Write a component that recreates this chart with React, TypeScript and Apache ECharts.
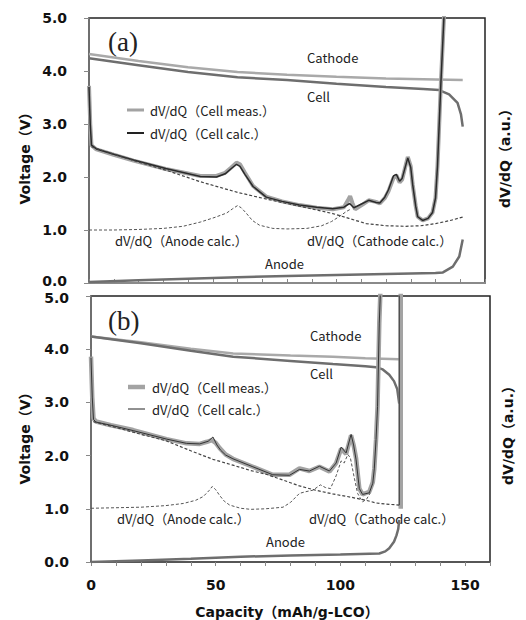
import React, { useEffect, useRef } from "react";
import * as echarts from "echarts";

// ---------- Panel (a) ----------
const aCathodeV: [number, number][] = [[0,4.32],[20,4.19],[40,4.07],[60,3.98],[80,3.93],[100,3.89],[120,3.86],[140,3.84],[151,3.83]];
const aCellV: [number, number][] = [[0,4.24],[20,4.11],[40,3.98],[60,3.88],[80,3.83],[100,3.76],[120,3.70],[135,3.66],[141.5,3.64],[145.5,3.56],[148.9,3.40],[150.3,3.18],[151,2.95]];
const aAnodeV: [number, number][] = [[0,0.02],[20,0.05],[40,0.08],[60,0.11],[80,0.13],[100,0.15],[120,0.17],[140,0.19],[143,0.2],[147,0.31],[149.6,0.5],[151,0.82]];
const aMeas: [number, number][] = [[0,3.72],[0.5,3.0],[1,2.6],[3,2.52],[10,2.42],[18,2.31],[31,2.15],[45,2.02],[51.5,2.02],[55,2.08],[57.5,2.18],[59.6,2.27],[61,2.24],[63,2.08],[66.3,1.83],[71.6,1.63],[78,1.54],[85,1.47],[92,1.42],[98.5,1.39],[103,1.43],[104.5,1.55],[105.5,1.64],[106.5,1.5],[107.5,1.39],[110.5,1.48],[113,1.56],[116,1.53],[117.5,1.5],[119.5,1.6],[121,1.73],[123,1.98],[124.2,2.03],[125.5,1.9],[126.5,1.95],[128.8,2.38],[130,2.2],[130.8,1.85],[132,1.45],[132.8,1.25],[134.8,1.18],[137,1.22],[138.8,1.33],[140,1.6],[140.8,2.2],[141.5,3.0],[142.2,3.8],[143,4.6],[143.8,5.4]];
const aCalc: [number, number][] = [[0,3.7],[0.5,3.0],[1,2.6],[3,2.53],[10,2.43],[18,2.32],[31,2.16],[45,2.01],[51.5,2.0],[55,2.06],[57.5,2.16],[59.6,2.24],[61,2.2],[63,2.05],[66.3,1.82],[71.6,1.62],[78,1.54],[85,1.47],[92,1.43],[98.5,1.4],[103,1.43],[105.3,1.5],[107,1.42],[110.5,1.5],[113,1.56],[116,1.52],[117.5,1.51],[119.5,1.62],[121,1.76],[123,2.02],[124.2,2.05],[125.5,1.92],[126.5,1.97],[128.8,2.36],[130,2.18],[130.8,1.85],[132,1.45],[132.8,1.25],[134.8,1.18],[137,1.22],[138.8,1.33],[140,1.6],[140.8,2.2],[141.5,3.0],[142.2,3.8],[143,4.6],[143.8,5.4]];
const aAnodeCalc: [number, number][] = [[0,1.0],[10,1.0],[20,1.01],[30,1.03],[38,1.07],[45,1.15],[51,1.24],[55.6,1.32],[58,1.4],[60,1.46],[61.5,1.42],[63.5,1.32],[66,1.18],[68.9,1.09],[74.3,1.03],[80,1.02],[88,1.03],[94,1.08],[98,1.16],[101,1.25],[104,1.35],[106,1.4]];
const aCathodeCalc: [number, number][] = [[1,2.57],[10,2.43],[18,2.31],[31,2.13],[45,1.91],[60,1.71],[72,1.58],[85,1.45],[98.5,1.31],[105,1.22],[112,1.12],[120,1.08],[128,1.07],[134,1.08],[140,1.12],[146,1.18],[151.5,1.25]];

// ---------- Panel (b) ----------
const bCathodeV: [number, number][] = [[0,4.24],[20,4.13],[40,4.01],[57,3.92],[80,3.88],[97,3.86],[110,3.83],[123.6,3.81]];
const bCellV: [number, number][] = [[0,4.24],[20,4.11],[40,3.97],[57,3.86],[80,3.78],[97,3.72],[110,3.68],[114.3,3.66],[117,3.62],[119.6,3.52],[121.5,3.4],[122.8,3.25],[123.6,2.98]];
const bAnodeV: [number, number][] = [[0,0.0],[20,0.03],[40,0.06],[60,0.1],[80,0.12],[100,0.14],[115.6,0.16],[118,0.2],[119.6,0.26],[121.5,0.38],[122.5,0.5],[123.2,0.62],[123.6,0.79]];
const bMeas: (number | string)[][] = [[0,3.86],[0.5,3.1],[1,2.7],[2,2.64],[8,2.57],[16.9,2.48],[30.3,2.31],[38.3,2.23],[43.6,2.22],[46.5,2.26],[48.5,2.29],[50,2.24],[51.6,2.14],[54,2.02],[56.9,1.94],[64.9,1.79],[72.9,1.64],[79.6,1.64],[83.6,1.76],[87.6,1.71],[91.6,1.79],[95.6,1.7],[98.3,1.86],[100.3,2.13],[102.3,2.03],[104.3,2.38],[105.3,2.2],[106.3,1.95],[107.6,1.38],[108.9,1.27],[111.6,1.32],[113,1.5],[113.6,1.75],[114.3,2.3],[114.9,2.92],[115.6,4.49],[116.3,5.4],[120,"-"],[124.2,1.0],[124.2,5.4]];
const bCalc: (number | string)[][] = [[0,3.84],[0.5,3.1],[1,2.68],[2,2.63],[8,2.57],[16.9,2.47],[30.3,2.31],[38.3,2.23],[43.6,2.22],[47,2.27],[48.9,2.35],[50.5,2.2],[52,2.1],[54,2.01],[56.9,1.94],[64.9,1.79],[72.9,1.64],[79.6,1.63],[83.6,1.74],[87.6,1.71],[91.6,1.8],[95.6,1.71],[98.3,1.86],[100.3,2.16],[102.3,2.05],[104.3,2.4],[105.3,2.2],[106.3,1.92],[107.6,1.38],[108.9,1.27],[111.6,1.3],[113,1.48],[113.6,1.75],[114.3,2.3],[114.9,2.92],[115.6,4.49],[116.3,5.4],[120,"-"],[123.6,1.07],[123.6,5.4]];
const bAnodeCalc: [number, number][] = [[0,1.01],[10,1.02],[20,1.03],[30,1.06],[37,1.1],[42,1.16],[45,1.23],[47.5,1.35],[48.6,1.42],[50,1.36],[51.6,1.25],[53.5,1.14],[55.6,1.07],[60,1.01],[64,0.99],[70,1.0],[77,1.03],[80,1.12],[83.6,1.29],[86,1.32],[89,1.35],[92,1.45],[94,1.4],[96,1.38],[98.3,1.62],[100.3,1.9],[101.5,1.86],[103,2.02],[104,1.96],[105.5,1.6],[106.9,1.29],[108.9,1.13],[110.5,1.18],[112,1.3]];
const bCathodeCalc: [number, number][] = [[1,2.64],[10,2.53],[20,2.4],[30,2.28],[40,2.09],[48.9,1.93],[56.9,1.82],[64,1.72],[70.9,1.64],[77,1.54],[83.6,1.43],[90,1.35],[96.9,1.28],[104,1.22],[110.3,1.16],[114.3,1.11],[118,1.09],[123.6,1.07]];

const yTicks = [0, 1, 2, 3, 4, 5];
const xLabelTicks = [0, 50, 100, 150];

const TICK_FONT = "DejaVu Sans, Verdana, sans-serif";
const ANN_FONT = "'Noto Sans CJK JP', 'Noto Sans', sans-serif";

export default function App() {
  const ref = useRef<HTMLDivElement>(null);
  useEffect(() => {
    if (!ref.current) return;
    const chart = echarts.init(ref.current, undefined, { renderer: "svg" });

    const grids = [
      { left: 89, top: 18, width: 396, height: 265 },
      { left: 91, top: 296, width: 399, height: 266 },
    ];

    const labelFont = { fontFamily: TICK_FONT, fontWeight: "bold", fontSize: 14, color: "#111" };

    const mkX = (gi: number, labels: boolean) => ({
      type: "value", gridIndex: gi, min: 0, max: 160, interval: 10,
      axisLine: { show: true, onZero: false, lineStyle: { color: labels ? "#555" : "#8a8a8a", width: labels ? 1.5 : 2 } },
      axisTick: { show: true, inside: !labels, length: 4, lineStyle: { color: "#888" } },
      splitLine: { show: false },
      axisLabel: {
        show: labels, margin: 16, ...labelFont,
        formatter: (v: number) => (xLabelTicks.includes(v) ? String(v) : ""),
      },
    });
    const mkY = (gi: number) => ({
      type: "value", gridIndex: gi, min: yTicks[0], max: yTicks[yTicks.length - 1], interval: 1,
      axisLine: { show: true, lineStyle: { color: "#777", width: 1.5 } },
      axisTick: { show: true, length: 5, lineStyle: { color: "#888" } },
      splitLine: { show: false },
      axisLabel: {
        margin: 22, ...labelFont,
        formatter: (v: number) => (gi === 0 && v === 0 ? "{lo|0.0}" : gi === 1 && v === 5 ? "{hi|5.0}" : v.toFixed(1)),
        rich: {
          lo: { ...labelFont, padding: [0, 0, 5, 0] },
          hi: { ...labelFont, padding: [3, 0, 0, 0] },
        },
      },
    });
    const mkY2 = (gi: number) => ({ type: "value", gridIndex: gi, min: 0, max: 5, show: false, name: "dV/dQ (a.u.)" });

    const line = (name: string, data: any[], xi: number, yi: number, color: string, width: number, dashed = false, z = 2) => ({
      name, type: "line", data, xAxisIndex: xi, yAxisIndex: yi, showSymbol: false, symbol: "none",
      lineStyle: { color, width, type: dashed ? [3, 2] : "solid" }, z, clip: true, silent: true,
    });

    const text = (t: string, x: number, y: number, extra: any = {}, rotation = 0) => ({
      type: "text", x, y, rotation, silent: true,
      style: { text: t, fill: "#222", font: `13px ${ANN_FONT}`, align: "left", verticalAlign: "middle", ...extra },
    });
    const legLine = (x: number, y: number, color: string, w: number) => ({
      type: "line", silent: true, shape: { x1: x, y1: y, x2: x + 17, y2: y }, style: { stroke: color, lineWidth: w },
    });
    const titleStyle = { font: `bold 14px ${TICK_FONT}, 'Noto Sans CJK JP'`, fill: "#111", align: "center" };
    const serif = { font: "27px 'Liberation Serif', 'Times New Roman', serif", fill: "#222" };

    const option: any = {
      animation: false,
      grid: grids.map((g) => ({ ...g, show: true, borderColor: "#222", borderWidth: 1.5, backgroundColor: "transparent", containLabel: false })),
      xAxis: [mkX(0, false), mkX(1, true)],
      yAxis: [mkY(0), mkY(1), mkY2(0), mkY2(1)],
      series: [
        line("Cathode", aCathodeV, 0, 0, "#a9a9a9", 2.5),
        line("Cell", aCellV, 0, 0, "#6e6e6e", 2.5),
        line("Anode", aAnodeV, 0, 0, "#6e6e6e", 2.5),
        line("dV/dQ（Cell meas.）", aMeas, 0, 2, "#a3a3a3", 4, false, 3),
        line("dV/dQ（Cell calc.）", aCalc, 0, 2, "#2a2a2a", 1.5, false, 4),
        line("dV/dQ（Anode calc.）", aAnodeCalc, 0, 2, "#555", 1, true, 4),
        line("dV/dQ（Cathode calc.）", aCathodeCalc, 0, 2, "#444", 1.2, true, 4),
        line("Cathode", bCathodeV, 1, 1, "#a9a9a9", 2.5),
        line("Cell", bCellV, 1, 1, "#6e6e6e", 2.5),
        line("Anode", bAnodeV, 1, 1, "#6e6e6e", 2.5),
        line("dV/dQ（Cell meas.）", bMeas, 1, 3, "#a3a3a3", 4.5, false, 3),
        line("dV/dQ（Cell calc.）", bCalc, 1, 3, "#333", 1, false, 4),
        line("dV/dQ（Anode calc.）", bAnodeCalc, 1, 3, "#555", 1, true, 4),
        line("dV/dQ（Cathode calc.）", bCathodeCalc, 1, 3, "#444", 1.2, true, 4),
      ],
      graphic: [
        text("(a)", 108, 42, serif),
        text("(b)", 108, 321, serif),
        text("Cathode", 307, 57),
        text("Cell", 307, 96),
        legLine(127, 110, "#a3a3a3", 3),
        text("dV/dQ（Cell meas.）", 150, 110),
        legLine(127, 133, "#222", 2),
        text("dV/dQ（Cell calc.）", 150, 133),
        text("dV/dQ（Anode calc.）", 115, 240),
        text("dV/dQ（Cathode calc.）", 307, 240),
        text("Anode", 265, 263),
        text("Cathode", 310, 335),
        text("Cell", 310, 373),
        legLine(128, 387, "#a3a3a3", 4.5),
        text("dV/dQ（Cell meas.）", 152, 387),
        legLine(128, 409, "#222", 1),
        text("dV/dQ（Cell calc.）", 152, 409),
        text("dV/dQ（Anode calc.）", 117, 518),
        text("dV/dQ（Cathode calc.）", 309, 518),
        text("Anode", 266, 541),
        text("Voltage（V）", 25, 155, titleStyle, Math.PI / 2),
        text("Voltage（V）", 25, 435, titleStyle, Math.PI / 2),
        text("dV/dQ（a.u.）", 505, 155, titleStyle, Math.PI / 2),
        text("dV/dQ（a.u.）", 508, 432, titleStyle, Math.PI / 2),
        text("Capacity（mAh/g-LCO）", 287, 612, titleStyle),
      ],
    };

    chart.setOption(option);
    return () => chart.dispose();
  }, []);

  return <div ref={ref} style={{ position: "fixed", left: 0, top: 0, width: 526, height: 620, background: "#fff" }} />;
}
